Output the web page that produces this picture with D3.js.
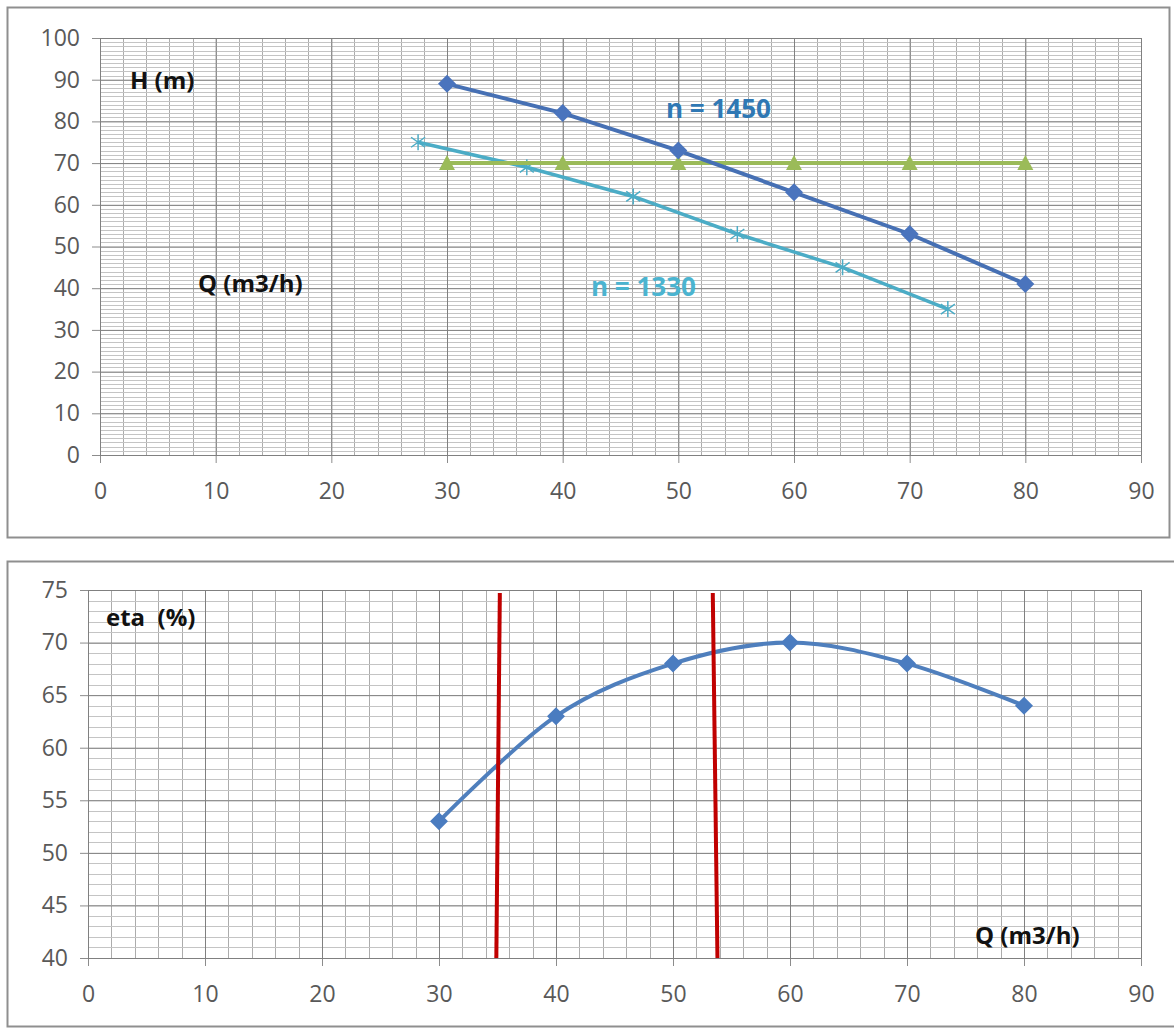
<!DOCTYPE html>
<html lang="en">
<head>
<meta charset="utf-8">
<title>Pump curves</title>
<script src="https://d3js.org/d3.v7.min.js"></script>
<style>
  body { margin: 0; background: #fff; }
  svg { display: block; }
  .tick text { font-family: "Open Sans", sans-serif; font-size: 23px; fill: #595959; }
  .lbl { font-family: "Open Sans", sans-serif; font-weight: bold; white-space: pre; }
</style>
</head>
<body>
<svg width="1174" height="1034"></svg>
<script>

// --- data ---
var qPoints = [30, 40, 50, 60, 70, 80];
var head1450 = [89, 82, 73, 63, 53, 41];
var headSystem = [70, 70, 70, 70, 70, 70];
var q1330 = [27.5, 36.9, 46.1, 55.1, 64.2, 73.3];
var head1330 = [75, 69, 62, 53, 45, 35];
var etaValues = [53, 63, 68, 70, 68, 64];
// red markers (slightly hand drawn, so top and bottom differ a bit)
var redQTop = [35.2, 53.4];
var redQBottom = [34.9, 53.8];

var qTicks = [0, 10, 20, 30, 40, 50, 60, 70, 80, 90];
var headTicks = [0, 10, 20, 30, 40, 50, 60, 70, 80, 90, 100];
var etaTicks = [40, 45, 50, 55, 60, 65, 70, 75];

var svg = d3.select("svg");

// frames
svg.append("rect").attr("x", 7.5).attr("y", 7.5).attr("width", 1162).attr("height", 530)
  .attr("fill", "#fff").attr("stroke", "#8f8f8f").attr("stroke-width", 2);
svg.append("rect").attr("x", 7.5).attr("y", 561.5).attr("width", 1170).attr("height", 465)
  .attr("fill", "#fff").attr("stroke", "#8f8f8f").attr("stroke-width", 2);

function grid(g, x, y, xMinor, yMinor) {
  var x0 = x.range()[0], x1 = x.range()[1], y0 = y.range()[0], y1 = y.range()[1];
  g.append("g").selectAll("line").data(xMinor).enter().append("line")
    .attr("x1", function(d) { return Math.round(x(d)) + 0.5; })
    .attr("x2", function(d) { return Math.round(x(d)) + 0.5; })
    .attr("y1", y0).attr("y2", y1)
    .attr("stroke", "#acacac").attr("stroke-width", 1);
  g.append("g").selectAll("line").data(yMinor).enter().append("line")
    .attr("y1", function(d) { return Math.round(y(d)) + 0.5; })
    .attr("y2", function(d) { return Math.round(y(d)) + 0.5; })
    .attr("x1", x0).attr("x2", x1)
    .attr("stroke", "#c4c4c4").attr("stroke-width", 1);
}

function axes(g, x, y, xt, yt) {
  var gx = g.append("g")
    .attr("transform", "translate(0," + y.range()[0] + ")")
    .call(d3.axisBottom(x).tickValues(xt).tickSize(8).tickPadding(20).tickSizeOuter(0));
  gx.select(".domain").remove();
  gx.selectAll(".tick line").attr("stroke", "#8c8c8c");
  gx.selectAll(".tick").each(function(d) {
    d3.select(this).append("line").attr("y1", 0).attr("y2", y.range()[1] - y.range()[0])
      .attr("stroke", "#808080");
  });

  var gy = g.append("g")
    .attr("transform", "translate(" + x.range()[0] + ",0)")
    .call(d3.axisLeft(y).tickValues(yt).tickSize(8).tickPadding(12).tickSizeOuter(0));
  gy.select(".domain").remove();
  gy.selectAll(".tick line").attr("stroke", "#8c8c8c");
  gy.selectAll(".tick").each(function(d) {
    d3.select(this).append("line").attr("x1", 0).attr("x2", x.range()[1] - x.range()[0])
      .attr("stroke", "#808080");
  });
}

function diamond(s) {
  return "M0," + (-s) + "L" + s + ",0L0," + s + "L" + (-s) + ",0Z";
}

// ---------- top chart: H(Q) ----------
var xH = d3.scaleLinear().domain([0, 90]).range([100, 1141]);
var yH = d3.scaleLinear().domain([0, 100]).range([455, 38]);
var topG = svg.append("g");

grid(topG, xH, yH, d3.range(0, 91, 2), d3.range(0, 101, 1));
axes(topG, xH, yH, qTicks, headTicks);

var lineH = d3.line().x(function(d) { return xH(d[0]); }).y(function(d) { return yH(d[1]); });

var sys = qPoints.map(function(q, i) { return [q, headSystem[i]]; });
var n1450 = qPoints.map(function(q, i) { return [q, head1450[i]]; });
var n1330 = q1330.map(function(q, i) { return [q, head1330[i]]; });

topG.append("path").datum(n1330).attr("d", lineH)
  .attr("fill", "none").attr("stroke", "#4bacc6").attr("stroke-width", 3.5);
topG.append("g").selectAll("path").data(n1330).enter().append("path")
  .attr("transform", function(d) { return "translate(" + xH(d[0]) + "," + yH(d[1]) + ")"; })
  .attr("d", "M-7,-5L7,5M-7,5L7,-5M0,-8L0,8")
  .attr("stroke", "#4bacc6").attr("stroke-width", 1.5).attr("fill", "none");

topG.append("path").datum(sys).attr("d", lineH)
  .attr("fill", "none").attr("stroke", "#9bbb59").attr("stroke-width", 4);
topG.append("g").selectAll("path").data(sys).enter().append("path")
  .attr("transform", function(d) { return "translate(" + xH(d[0]) + "," + yH(d[1]) + ")"; })
  .attr("d", "M0,-8L8,7L-8,7Z")
  .attr("fill", "#9bbb59");

topG.append("path").datum(n1450).attr("d", lineH)
  .attr("fill", "none").attr("stroke", "#4670b4").attr("stroke-width", 4);
topG.append("g").selectAll("path").data(n1450).enter().append("path")
  .attr("transform", function(d) { return "translate(" + xH(d[0]) + "," + yH(d[1]) + ")"; })
  .attr("d", diamond(9))
  .attr("fill", "#4a74bd");

topG.append("text").attr("class", "lbl").attr("x", 130).attr("y", 89)
  .attr("font-size", 24).attr("fill", "#111").text("H (m)");
topG.append("text").attr("class", "lbl").attr("x", 198).attr("y", 292)
  .attr("font-size", 24).attr("fill", "#111").text("Q (m3/h)");
topG.append("text").attr("class", "lbl").attr("x", 666).attr("y", 118)
  .attr("font-size", 26).attr("fill", "#2f78b4").text("n = 1450");
topG.append("text").attr("class", "lbl").attr("x", 591).attr("y", 296)
  .attr("font-size", 26).attr("fill", "#4bb4d0").text("n = 1330");

// ---------- bottom chart: eta(Q) ----------
var xE = d3.scaleLinear().domain([0, 90]).range([88, 1141]);
var yE = d3.scaleLinear().domain([40, 75]).range([958, 590]);
var botG = svg.append("g");

grid(botG, xE, yE, d3.range(0, 91, 2), d3.range(40, 76, 1));
axes(botG, xE, yE, qTicks, etaTicks);

var eta = qPoints.map(function(q, i) { return [q, etaValues[i]]; });
var lineE = d3.line().curve(d3.curveCardinal.tension(0))
  .x(function(d) { return xE(d[0]); }).y(function(d) { return yE(d[1]); });

botG.append("path").datum(eta).attr("d", lineE)
  .attr("fill", "none").attr("stroke", "#4f7fbd").attr("stroke-width", 4);
botG.append("g").selectAll("path").data(eta).enter().append("path")
  .attr("transform", function(d) { return "translate(" + xE(d[0]) + "," + yE(d[1]) + ")"; })
  .attr("d", diamond(9))
  .attr("fill", "#4a7cc0");

botG.append("g").selectAll("line").data(redQTop).enter().append("line")
  .attr("x1", function(d) { return xE(d); })
  .attr("x2", function(d, i) { return xE(redQBottom[i]); })
  .attr("y1", yE(75) + 3).attr("y2", yE(40))
  .attr("stroke", "#c00000").attr("stroke-width", 4);

botG.append("text").attr("class", "lbl").attr("x", 106).attr("y", 626)
  .attr("font-size", 24).attr("fill", "#111").text("eta  (%)");
botG.append("text").attr("class", "lbl").attr("x", 975).attr("y", 944)
  .attr("font-size", 24).attr("fill", "#111").text("Q (m3/h)");

</script>
</body>
</html>
